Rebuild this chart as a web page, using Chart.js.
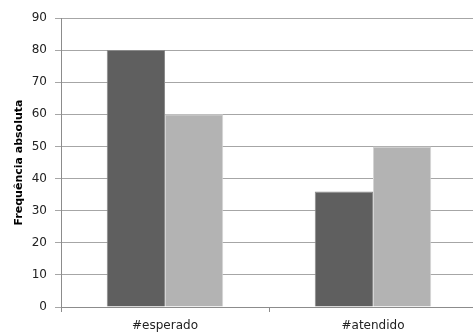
<!DOCTYPE html>
<html>
<head>
<meta charset="utf-8">
<script src="https://cdn.jsdelivr.net/npm/chart.js@4"></script>
<style>
  html, body { margin: 0; padding: 0; background: #fff; overflow: hidden; }
  #wrap { width: 478px; height: 336px; }
</style>
</head>
<body>
<div id="wrap"><canvas id="chart" width="478" height="336"></canvas></div>
<script>
// ---- DATA ----
const categories = ['#esperado', '#atendido'];
const serieEscura = [80, 36];
const serieClara = [60, 50];
const yTitle = 'Frequência absoluta';

const fontFamily = "'DejaVu Sans', Verdana, sans-serif";
const gridColor = '#a6a6a6';
const axisColor = '#8c8c8c';

new Chart(document.getElementById('chart'), {
  type: 'bar',
  data: {
    labels: categories,
    datasets: [
      {
        data: serieEscura,
        backgroundColor: '#5f5f5f',
        borderColor: '#8a8a8a',
        borderWidth: 1,
        categoryPercentage: 0.56,
        barPercentage: 1.0,
      },
      {
        data: serieClara,
        backgroundColor: '#b3b3b3',
        borderColor: '#d4d4d4',
        borderWidth: 1,
        categoryPercentage: 0.56,
        barPercentage: 1.0,
      }
    ]
  },
  options: {
    responsive: false,
    animation: false,
    devicePixelRatio: 1,
    layout: { padding: { top: 18, right: 1, left: 0, bottom: 0 } },
    plugins: {
      legend: { display: false },
      tooltip: { enabled: false }
    },
    scales: {
      x: {
        afterFit: s => { s.height = 29; },
        border: { color: axisColor, width: 1 },
        grid: { display: true, drawOnChartArea: false, drawTicks: true, tickLength: 5, color: axisColor, offset: true },
        ticks: { color: '#222', font: { family: fontFamily, size: 12 }, padding: 7 }
      },
      y: {
        min: 0,
        max: 90,
        afterFit: s => { s.width = 61; },
        border: { color: axisColor, width: 1 },
        grid: { color: gridColor, tickLength: 6, drawTicks: true },
        ticks: { stepSize: 10, color: '#222', font: { family: fontFamily, size: 12 }, padding: 8 },
        title: {
          display: true,
          text: yTitle,
          color: '#000',
          font: { family: fontFamily, size: 11, weight: 'bold' },
          padding: { top: 13, bottom: 0 }
        }
      }
    }
  }
});
</script>
</body>
</html>
